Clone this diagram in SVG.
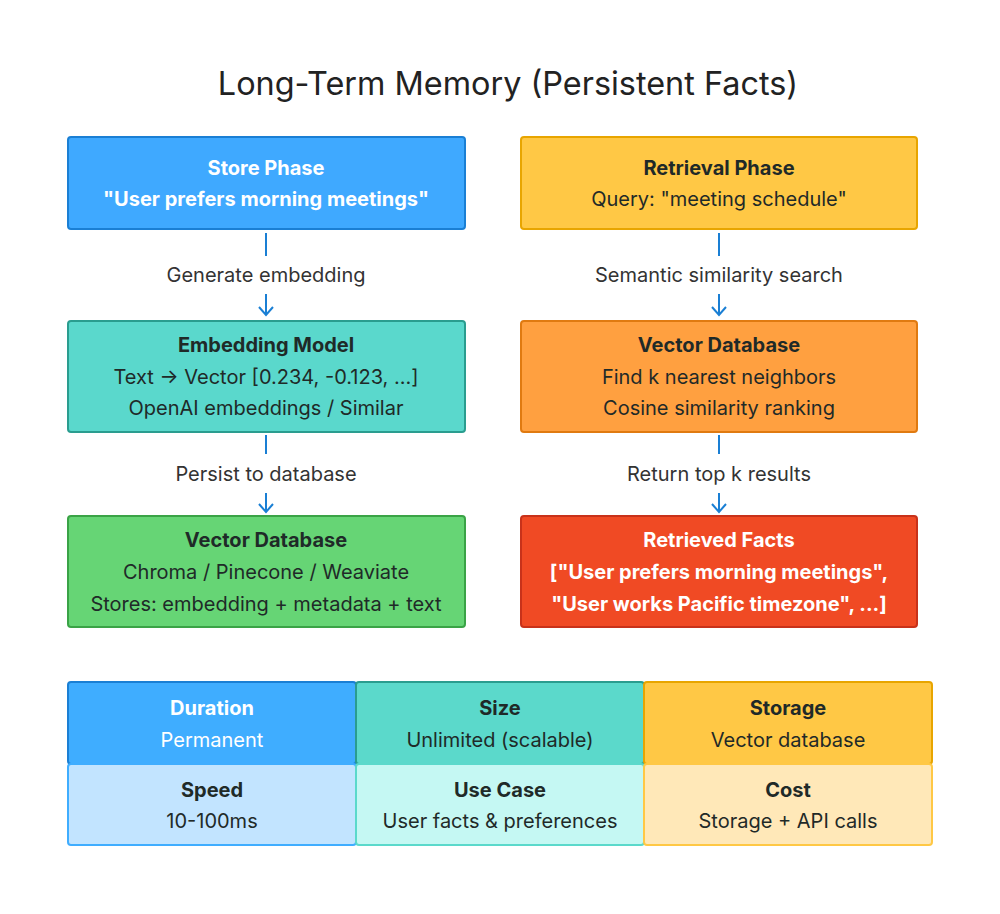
<svg xmlns="http://www.w3.org/2000/svg" width="1000" height="914" viewBox="0 0 1000 914">
<style>
text{font-family:Inter,"Liberation Sans",sans-serif;text-anchor:middle;font-size:20px;dominant-baseline:central}
.t{font-weight:bold}
.w{fill:#ffffff}
.d{fill:#1f2a28}
.lbl{fill:#333333}
.title{font-size:32.4px;fill:#222222}
.conn line,.conn path{stroke:#1a7fd4;stroke-width:2;fill:none}
</style>
<rect width="1000" height="914" fill="#ffffff"/>
<text class="title" x="508" y="83">Long-Term Memory (Persistent Facts)</text>

<g id="store">
<rect x="68" y="137" width="397" height="92" rx="3" fill="#3fa9ff" stroke="#1a7fd4" stroke-width="2"/>
<text class="t w" x="266" y="168">Store Phase</text>
<text class="t w" x="266" y="199">"User prefers morning meetings"</text>
</g>
<g id="embed">
<rect x="68" y="321" width="397" height="111" rx="3" fill="#5ad8cc" stroke="#2a9d8f" stroke-width="2"/>
<text class="t d" x="266" y="345">Embedding Model</text>
<text class="d" x="266" y="377">Text → Vector [0.234, -0.123, ...]</text>
<text class="d" x="266" y="408">OpenAI embeddings / Similar</text>
</g>
<g id="vdb1">
<rect x="68" y="516" width="397" height="111" rx="3" fill="#66d575" stroke="#3aa346" stroke-width="2"/>
<text class="t d" x="266" y="540">Vector Database</text>
<text class="d" x="266" y="572">Chroma / Pinecone / Weaviate</text>
<text class="d" x="266" y="604">Stores: embedding + metadata + text</text>
</g>
<g id="retrieval">
<rect x="521" y="137" width="396" height="92" rx="3" fill="#ffc845" stroke="#e8a500" stroke-width="2"/>
<text class="t d" x="719" y="168">Retrieval Phase</text>
<text class="d" x="719" y="199">Query: "meeting schedule"</text>
</g>
<g id="vdb2">
<rect x="521" y="321" width="396" height="111" rx="3" fill="#ffa040" stroke="#e07a10" stroke-width="2"/>
<text class="t d" x="719" y="345">Vector Database</text>
<text class="d" x="719" y="377">Find k nearest neighbors</text>
<text class="d" x="719" y="408">Cosine similarity ranking</text>
</g>
<g id="facts">
<rect x="521" y="516" width="396" height="111" rx="3" fill="#f04a24" stroke="#c8321a" stroke-width="2"/>
<text class="t w" x="719" y="540">Retrieved Facts</text>
<text class="t w" x="719" y="572">["User prefers morning meetings",</text>
<text class="t w" x="719" y="604">"User works Pacific timezone", ...]</text>
</g>

<g id="connectors" class="conn">
<line x1="266" y1="233" x2="266" y2="256"/>
<text class="lbl" x="266" y="275">Generate embedding</text>
<line x1="266" y1="294" x2="266" y2="315"/>
<path d="M259,307 L266,315 L273,307"/>
<line x1="266" y1="435" x2="266" y2="454"/>
<text class="lbl" x="266" y="474">Persist to database</text>
<line x1="266" y1="493" x2="266" y2="512"/>
<path d="M259,504 L266,512 L273,504"/>
<line x1="719" y1="233" x2="719" y2="256"/>
<text class="lbl" x="719" y="275">Semantic similarity search</text>
<line x1="719" y1="294" x2="719" y2="315"/>
<path d="M712,307 L719,315 L726,307"/>
<line x1="719" y1="435" x2="719" y2="454"/>
<text class="lbl" x="719" y="474">Return top k results</text>
<line x1="719" y1="493" x2="719" y2="512"/>
<path d="M712,504 L719,512 L726,504"/>
</g>

<g id="table">
<g id="duration">
<rect x="68" y="682" width="288" height="82" rx="3" fill="#3fadff" stroke="#1a7fd4" stroke-width="2"/>
<text class="t w" x="212" y="708">Duration</text>
<text class="w" x="212" y="740">Permanent</text>
</g>
<g id="size">
<rect x="356" y="682" width="288" height="82" rx="3" fill="#5bd9cb" stroke="#2a9d8f" stroke-width="2"/>
<text class="t d" x="500" y="708">Size</text>
<text class="d" x="500" y="740">Unlimited (scalable)</text>
</g>
<g id="storage">
<rect x="644" y="682" width="288" height="82" rx="3" fill="#ffc845" stroke="#e8a500" stroke-width="2"/>
<text class="t d" x="788" y="708">Storage</text>
<text class="d" x="788" y="740">Vector database</text>
</g>
<g id="speed">
<rect x="68" y="764" width="288" height="81" rx="3" fill="#c2e4ff" stroke="#3fadff" stroke-width="2"/>
<text class="t d" x="212" y="790">Speed</text>
<text class="d" x="212" y="821">10-100ms</text>
</g>
<g id="usecase">
<rect x="356" y="764" width="288" height="81" rx="3" fill="#c5f8f3" stroke="#5bd9cb" stroke-width="2"/>
<text class="t d" x="500" y="790">Use Case</text>
<text class="d" x="500" y="821">User facts &amp; preferences</text>
</g>
<g id="cost">
<rect x="644" y="764" width="288" height="81" rx="3" fill="#ffe8b8" stroke="#ffc845" stroke-width="2"/>
<text class="t d" x="788" y="790">Cost</text>
<text class="d" x="788" y="821">Storage + API calls</text>
</g>
</g>
</svg>
